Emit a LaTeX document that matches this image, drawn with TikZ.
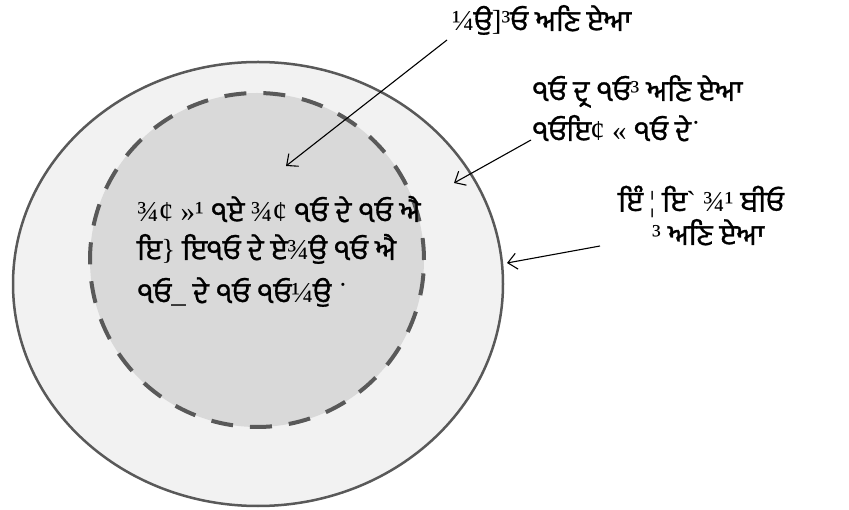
\documentclass[tikz,border=0pt]{standalone}
\usepackage{fontspec}
\newfontfamily\gurfont[Script=Gurmukhi,FakeBold=1]{Hind Jalandhar}
\newfontfamily\symfont{Liberation Serif}
\newcommand{\ls}[1]{{\symfont #1}}
\usetikzlibrary{arrows.meta}
\definecolor{ringgray}{HTML}{595959}
\definecolor{outerfill}{HTML}{F2F2F2}
\definecolor{innerfill}{HTML}{D9D9D9}
\tikzset{
  lbl/.style={anchor=base west, inner sep=0pt, align=left, font=\gurfont\fontsize{29}{#1}\selectfont},
  lbl/.default=32,
  ptr/.style={draw=black, line width=1.1pt, -{Straight Barb[length=9pt,width=16pt,line width=1.1pt]}},
}
\begin{document}
\begin{tikzpicture}[x=1pt,y=1pt]
\useasboundingbox (0,0) rectangle (849,509);
% rings
\draw[ringgray, fill=outerfill, line width=2.5pt] (258,225) ellipse [x radius=245, y radius=222];
\draw[ringgray, fill=innerfill, line width=4pt, dash pattern=on 22pt off 17pt] (257,249) circle [radius=167];
% labels (base anchor = baseline of last line)
\node[lbl] (top) at (452,478) {\ls{¼}ਉ\ls{]³}ਓ ਅਣਿ ਏਆ};
\node[lbl=40] (mid) at (532,368) {੧ਓ ਦ੍ਰ ੧ਓ\ls{³} ਅਣਿ ਏਆ\\੧ਓਇ\ls{¢ «} ੧ਓ ਦੇ\ls{˙}};
\node[lbl=32] (rt) at (618,264) {ਇੰ \ls{¦} ਇ\ls{`} \ls{¾¹} ਬੀਓ\\\hspace*{34pt}\ls{³} ਅਣਿ ਏਆ};
\node[lbl=38] (ctr) at (137,206) {\ls{¾¢ »¹} ੧ਏ \ls{¾¢} ੧ਓ ਦੇ ੧ਓ ਐ\\ਇ\ls{\}} ਇ੧ਓ ਦੇ ਏ\ls{¾}ਉ ੧ਓ ਐ\\[5pt]੧ਓ\ls{\_} ਦੇ ੧ਓ ੧ਓ\ls{¼}ਉ \ls{˙}};
% arrow ends
\coordinate (t1) at (447,469);
\coordinate (h1) at (286,343);
\coordinate (t2) at (531,369);
\coordinate (h2) at (454,326);
\coordinate (t3) at (600,263);
\coordinate (h3) at (507,246);
\draw[ptr] (t1) -- (h1);
\draw[ptr] (t2) -- (h2);
\draw[ptr] (t3) -- (h3);
\end{tikzpicture}
\end{document}
